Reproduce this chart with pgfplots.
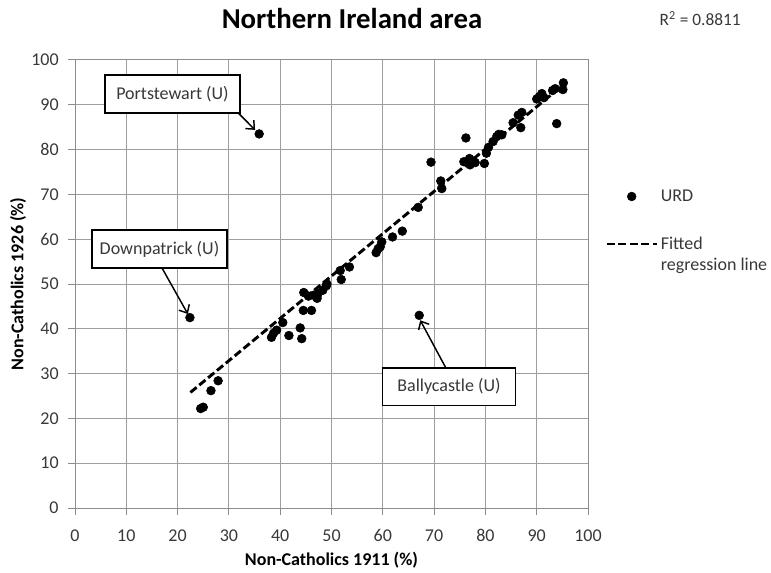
\documentclass[border=0pt]{standalone}
\usepackage{pgfplots}
\pgfplotsset{compat=1.18}
\usepackage{pgfplotstable}
\usepackage{fontspec}
\setmainfont{Carlito}
\usetikzlibrary{arrows.meta}

\pgfplotsset{
  urd legend/.style={legend image code/.code={\draw[##1] plot coordinates {(18.75pt,0pt)};}},
  fit legend/.style={legend image code/.code={\draw[##1] (0pt,7.9pt) -- (37.5pt,7.9pt);}},
}

\pgfplotstableread{
x y
22.4 42.5
24.5 22.2
25.0 22.5
26.5 26.2
27.9 28.4
35.9 83.5
38.3 38.1
38.7 39.0
39.3 39.7
40.5 41.4
41.7 38.5
43.9 40.2
44.2 37.8
44.5 44.1
46.1 44.1
44.6 48.1
45.5 47.3
46.5 47.5
47.2 46.8
47.4 47.9
48.3 48.6
49.0 49.6
49.1 50.0
51.7 53.0
51.9 51.0
53.5 53.8
58.7 57.0
59.1 57.9
59.5 58.3
59.8 59.4
61.9 60.5
63.8 61.8
66.9 67.1
67.1 43.0
69.4 77.2
71.3 73.0
71.5 71.3
75.8 77.3
76.2 82.6
76.4 77.3
76.9 78.0
77.0 76.6
77.7 77.4
78.0 77.1
79.8 76.9
80.2 79.2
80.6 80.5
81.5 81.8
82.2 82.9
82.6 83.4
83.2 83.3
85.4 86.0
86.4 87.7
86.9 84.9
87.1 88.3
90.0 91.3
90.5 91.8
91.0 92.5
91.4 91.6
93.1 93.2
93.6 93.6
93.9 85.8
95.1 93.4
95.2 94.9
}\urd

\pgfplotstableread{
x y
22.5 25.8
95.0 94.3
}\fit

\begin{document}
\begin{tikzpicture}
\begin{axis}[
  scale only axis, width=384.75pt, height=336pt,
  xmin=0, xmax=100, ymin=0, ymax=100,
  xtick={0,10,...,100}, ytick={0,10,...,100},
  grid=major, grid style={draw=black!38, line width=0.75pt},
  axis line style={draw=black!45, line width=0.75pt},
  tick style={draw=black!45, line width=0.75pt},
  tick align=outside, tick pos=left, major tick length=5pt,
  ticklabel style={font=\fontsize{13.5}{16}\selectfont, text=black!78},
  xticklabel style={yshift=-7.5pt},
  yticklabel style={xshift=-3.75pt},
  /pgf/number format/assume math mode=true,
  clip=false,
  legend cell align=left,
  legend style={at={(axis description cs:1.0331,0.717)}, anchor=north west,
    draw=none, fill=none, inner sep=0pt, row sep=21pt,
    font=\fontsize{13.5}{16}\selectfont, text=black!78,
    cells={align=left},
    /tikz/every even column/.append style={column sep=2pt}},
]
\addplot[only marks, mark=*, mark size=3.3pt, draw=black, fill=black, urd legend]
  table[x=x,y=y] {\urd};
\addlegendentry{URD}
\addplot[black, line width=2.2pt, dash pattern=on 6pt off 2.6pt, no marks, fit legend]
  table[x=x,y=y] {\fit};
\addlegendentry{Fitted\\regression line}

% annotations
\draw[line width=1.1pt, -{Straight Barb[length=5pt,width=9pt]}] (axis cs:31.8,88.2) -- (axis cs:35.1,84.4);
\draw[line width=1.1pt, -{Straight Barb[length=5pt,width=9pt]}] (axis cs:16.96,53.57) -- (axis cs:22.0,43.3);
\draw[line width=1.1pt, -{Straight Barb[length=5pt,width=9pt]}] (axis cs:72.3,31.25) -- (axis cs:67.3,41.9);
\node[draw=black, line width=1.1pt, fill=white, minimum width=101pt, minimum height=28.5pt, inner sep=2pt,
  font=\fontsize{13.5}{16}\selectfont, text=black!78] at (axis cs:19.0,92.4) {Portstewart (U)};
\node[draw=black, line width=1.1pt, fill=white, minimum width=101pt, minimum height=28.5pt, inner sep=2pt,
  font=\fontsize{13.5}{16}\selectfont, text=black!78] at (axis cs:16.47,57.8) {Downpatrick (U)};
\node[draw=black, line width=1.1pt, fill=white, minimum width=100pt, minimum height=28pt, inner sep=2pt,
  font=\fontsize{13.5}{16}\selectfont, text=black!78] at (axis cs:72.9,27.1) {Ballycastle (U)};

% labels and title
\node[font=\fontsize{13.5}{16}\selectfont\bfseries] at ([yshift=-39pt]rel axis cs:0.5,0) {Non-Catholics 1911 (\%)};
\node[rotate=90, font=\fontsize{13.5}{16}\selectfont\bfseries] at ([xshift=-42.75pt]rel axis cs:0,0.5) {Non-Catholics 1926 (\%)};
\node[font=\fontsize{21.6}{26}\selectfont\bfseries] at ([xshift=207.75pt, yshift=366.75pt]rel axis cs:0,0) {Northern Ireland area};
\node[anchor=west, font=\fontsize{13}{15}\selectfont, text=black!78] at ([xshift=435pt, yshift=366.75pt]rel axis cs:0,0) {R\textsuperscript{2} = 0.8811};
\coordinate (O) at (rel axis cs:0,0);
\end{axis}
\pgfresetboundingbox
\path[use as bounding box] ([shift={(-56.25pt,-48pt)}]O) rectangle ([shift={(522pt,381pt)}]O);
\end{tikzpicture}
\end{document}
